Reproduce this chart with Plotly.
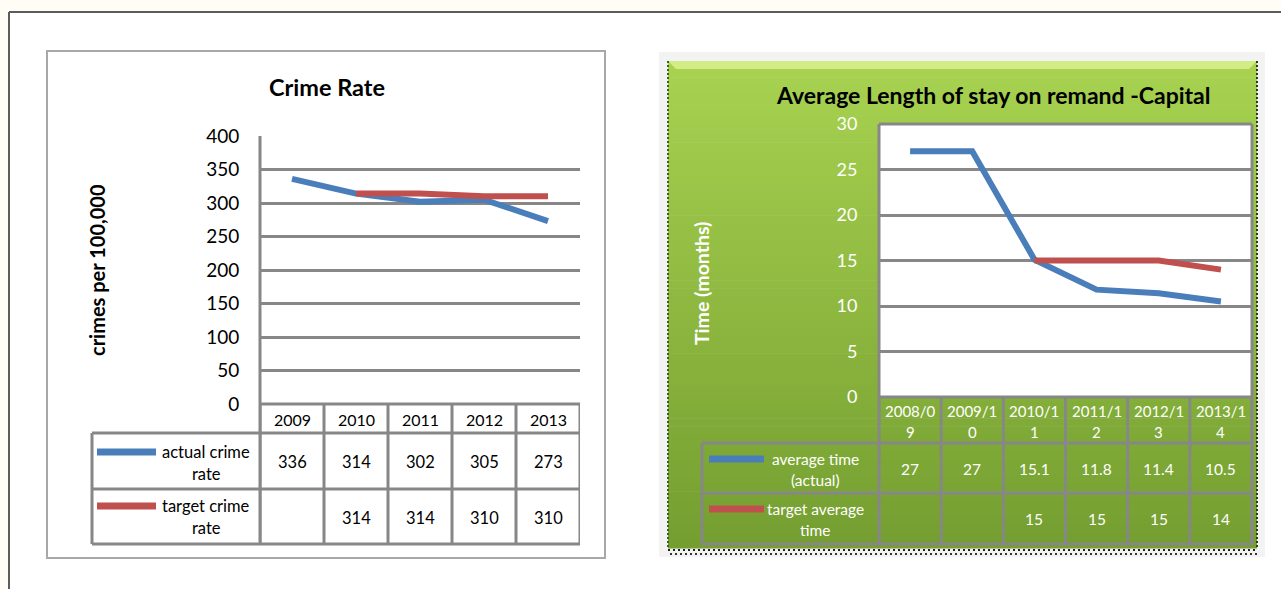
import plotly.graph_objects as go

W, H = 1281, 589

# ---- Crime rate panel data ----
crime_years = ["2009", "2010", "2011", "2012", "2013"]
crime_actual = [336, 314, 302, 305, 273]
crime_target = [None, 314, 314, 310, 310]
crime_ticks = [0, 50, 100, 150, 200, 250, 300, 350, 400]
crime_names = ["actual crime rate", "target crime rate"]

# ---- Remand panel data ----
remand_periods = ["2008/09", "2009/10", "2010/11", "2011/12", "2012/13", "2013/14"]
remand_actual = [27, 27, 15.1, 11.8, 11.4, 10.5]
remand_target = [None, None, 15, 15, 15, 14]
remand_ticks = [0, 5, 10, 15, 20, 25, 30]
remand_names = ["average time (actual)", "target average time"]

BLUE = "#4a7ebb"
RED = "#c0504d"
GRID = "#878787"
FONT = "Lato"


def X(px):
    return px / W


def Y(py):
    return 1 - py / H


shapes = []
annotations = []


def rect(x0, y0, x1, y1, fill, line=None, lw=0, layer="below"):
    shapes.append(dict(type="rect", xref="paper", yref="paper",
                       x0=X(x0), x1=X(x1), y0=Y(y1), y1=Y(y0),
                       fillcolor=fill, layer=layer,
                       line=dict(color=line or "rgba(0,0,0,0)", width=lw)))


def seg(x0, y0, x1, y1, color, width, xref="paper", dash=None, layer="above"):
    fx = (lambda v: v) if xref != "paper" else X
    ln = dict(color=color, width=width)
    if dash:
        ln["dash"] = dash
    shapes.append(dict(type="line", xref=xref, yref="paper",
                       x0=fx(x0), x1=fx(x1), y0=Y(y0), y1=Y(y1),
                       line=ln, layer=layer))


def text(x, y, s, size, color="black", bold=False, xref="paper", xanchor="center"):
    annotations.append(dict(
        x=X(x) if xref == "paper" else x, y=Y(y), xref=xref, yref="paper",
        text=f"<b>{s}</b>" if bold else s, showarrow=False,
        xanchor=xanchor, yanchor="middle",
        font=dict(family=FONT, size=size, color=color)))


def fmt(v):
    return "" if v is None else f"{v:g}"


# ---- page frame ----
rect(9, 12, W + 2, H + 2, "white")
seg(9, 12, W, 12, "#5c5c5c", 2)
seg(9, 12, 9, H, "#5c5c5c", 2)

# ---- left chart box ----
rect(47, 51, 605, 558, "white", "#a8a8a8", 2)

# ---- right chart backdrop: light panel + green gradient ----
rect(659, 52, 1265, 557, "#f3f3f3")
g_top, g_bot = (168, 210, 80), (116, 158, 48)
g_y0, g_y1 = 61, 548
n_bands = 60
for i in range(n_bands):
    t = i / (n_bands - 1)
    c = tuple(round(a + (b - a) * t) for a, b in zip(g_top, g_bot))
    ya = g_y0 + (g_y1 - g_y0) * i / n_bands
    yb = g_y0 + (g_y1 - g_y0) * (i + 1) / n_bands + 0.6
    rect(668, ya, 1257, yb, "rgb(%d,%d,%d)" % c)
# bevel highlight along the top edge
shapes.append(dict(type="path", xref="paper", yref="paper", layer="below",
                   path="M %f %f L %f %f L %f %f L %f %f Z" % (
                       X(668), Y(61), X(1257), Y(61), X(1249), Y(69), X(676), Y(69)),
                   fillcolor="#d3ed86", line=dict(width=0)))
# dotted frame edges and shadow
seg(668, 61, 668, 548, "#3f5f1c", 2, dash="2px,2px", layer="below")
seg(1257, 61, 1257, 548, "#2e3a20", 2, dash="2px,2px", layer="below")
seg(668, 550, 1257, 550, "#222222", 2, dash="2px,3px", layer="below")
seg(670, 554, 1257, 554, "#333333", 2, dash="2px,3px", layer="below")
# white plot area
rect(879, 124, 1252, 397, "white")

fig = go.Figure()

# ---- data lines ----
fig.add_trace(go.Scatter(x=crime_years, y=crime_actual, mode="lines",
                         line=dict(color=BLUE, width=6), xaxis="x", yaxis="y",
                         name=crime_names[0], showlegend=False))
fig.add_trace(go.Scatter(x=crime_years, y=crime_target, mode="lines",
                         line=dict(color=RED, width=6), xaxis="x", yaxis="y",
                         name=crime_names[1], showlegend=False))
fig.add_trace(go.Scatter(x=remand_periods, y=remand_actual, mode="lines",
                         line=dict(color=BLUE, width=6), xaxis="x2", yaxis="y2",
                         name=remand_names[0], showlegend=False))
fig.add_trace(go.Scatter(x=remand_periods, y=remand_target, mode="lines",
                         line=dict(color=RED, width=6), xaxis="x2", yaxis="y2",
                         name=remand_names[1], showlegend=False))

# ---- left data table ----
L_AX, L_R, L_LEG = 260, 580, 92
L_TOP, L_HB, L_R1, L_BOT = 404, 433, 489, 544
seg(L_AX, 136, L_AX, L_BOT, GRID, 3)
seg(L_AX, L_TOP, L_R, L_TOP, GRID, 3)
for yy in (L_HB, L_R1, L_BOT):
    seg(L_LEG, yy, L_R, yy, GRID, 3)
seg(L_LEG, L_HB, L_LEG, L_BOT, GRID, 3)
for i in range(len(crime_years) + 1):
    seg(i - 0.5, L_TOP, i - 0.5, L_BOT, GRID, 3, xref="x")

# category positions on the axis are 0..n-1
for i, (yr, a, t) in enumerate(zip(crime_years, crime_actual, crime_target)):
    text(i, 419, yr, 16, xref="x")
    text(i, 462, fmt(a), 16.5, xref="x")
    text(i, 518, fmt(t), 16.5, xref="x")

for name, color, yl in zip(crime_names, (BLUE, RED), (452, 506)):
    seg(97, yl, 156, yl, color, 7)
    first, second = name.rsplit(" ", 1)
    text(206, yl, first, 16.5)
    text(206, yl + 22, second, 16.5)

text(327, 87, "Crime Rate", 23.5, bold=True)
annotations.append(dict(x=X(97), y=Y(270), xref="paper", yref="paper",
                        text="<b>crimes per 100,000</b>", textangle=-90,
                        showarrow=False, xanchor="center", yanchor="middle",
                        font=dict(family=FONT, size=20, color="black")))

# ---- right data table ----
R_AX, R_R, R_LEG = 879, 1252, 702
R_TOP, R_HB, R_R1, R_BOT = 397, 443, 493, 544
for yy in (124, R_TOP):
    seg(R_AX, yy, R_R, yy, GRID, 3)
seg(R_R, 124, R_R, R_BOT, GRID, 3)
seg(R_AX, 124, R_AX, R_BOT, GRID, 3)
for yy in (R_HB, R_R1, R_BOT):
    seg(R_LEG, yy, R_R, yy, GRID, 3)
seg(R_LEG, R_HB, R_LEG, R_BOT, GRID, 3)
for i in range(len(remand_periods) + 1):
    seg(i - 0.5, R_TOP, i - 0.5, R_BOT, GRID, 3, xref="x2")

for i, (p, a, t) in enumerate(zip(remand_periods, remand_actual, remand_target)):
    text(i, 411, p[:6], 15, "white", xref="x2")
    text(i, 432, p[6:], 15, "white", xref="x2")
    text(i, 469, fmt(a), 15.5, "white", xref="x2")
    text(i, 519, fmt(t), 15.5, "white", xref="x2")

for name, color, yl in zip(remand_names, (BLUE, RED), (459, 509)):
    seg(709, yl, 764, yl, color, 7)
    first, second = name.rsplit(" ", 1)
    text(815, yl, first, 15.5, "white")
    text(815, yl + 21, second, 15.5, "white")

text(993, 95, "Average Length of stay on remand -Capital", 23, bold=True)
annotations.append(dict(x=X(701), y=Y(284), xref="paper", yref="paper",
                        text="<b>Time (months)</b>", textangle=-90,
                        showarrow=False, xanchor="center", yanchor="middle",
                        font=dict(family=FONT, size=19.5, color="white")))

fig.update_layout(
    width=W, height=H, autosize=False,
    margin=dict(l=0, r=0, t=0, b=0, pad=0, autoexpand=False),
    paper_bgcolor="#fffdf6", plot_bgcolor="rgba(0,0,0,0)",
    showlegend=False, hovermode=False,
    xaxis=dict(domain=[X(L_AX), X(L_R)], type="category",
               categoryorder="array", categoryarray=crime_years,
               range=[-0.5, len(crime_years) - 0.5], automargin=False,
               showgrid=False, zeroline=False, showline=False,
               showticklabels=False, ticks=""),
    yaxis=dict(domain=[Y(L_TOP), Y(136)], range=[0, 400], automargin=False,
               tickvals=crime_ticks, showgrid=True, gridcolor=GRID, gridwidth=3,
               zeroline=False, showline=False,
               ticks="outside", ticklen=16, tickcolor="rgba(0,0,0,0)",
               tickfont=dict(family=FONT, size=19, color="black")),
    xaxis2=dict(domain=[X(R_AX), X(R_R)], type="category", anchor="y2",
                categoryorder="array", categoryarray=remand_periods,
                range=[-0.5, len(remand_periods) - 0.5], automargin=False,
                showgrid=False, zeroline=False, showline=False,
                showticklabels=False, ticks=""),
    yaxis2=dict(domain=[Y(R_TOP), Y(124)], range=[0, 30], anchor="x2",
                automargin=False,
                tickvals=remand_ticks, showgrid=True, gridcolor=GRID, gridwidth=3,
                zeroline=False, showline=False,
                ticks="outside", ticklen=17, tickcolor="rgba(0,0,0,0)",
                tickfont=dict(family=FONT, size=18, color="white")),
    shapes=shapes,
    annotations=annotations,
)

fig.write_html("out.html")
